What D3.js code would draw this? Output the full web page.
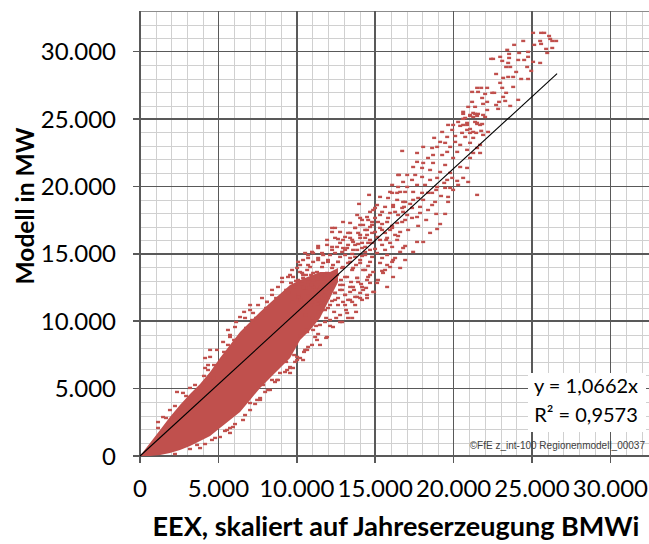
<!DOCTYPE html>
<html>
<head>
<meta charset="utf-8">
<script src="https://cdn.jsdelivr.net/npm/d3@7"></script>
<style>
body { margin: 0; background: #fff; }
text { font-family: Lato, "Open Sans", sans-serif; fill: #000; }
</style>
</head>
<body>
<div class="scatter"></div>
<script>
// axis ticks (MW)
const xTicks = [0, 5000, 10000, 15000, 20000, 25000, 30000]
const yTicks = [0, 5000, 10000, 15000, 20000, 25000, 30000]
const gridStep = 1000
const axisMax = 33000

// trend line y = 1,0662x, drawn up to the largest EEX value
const slope = 1.0662
const trendMaxX = 26600
const eqLines = ['y = 1,0662x', 'R² = 0,9573']
const xTitle = 'EEX, skaliert auf Jahreserzeugung BMWi'
const yTitle = 'Modell in MW'
const credit = '©FfE z_int-100 Regionenmodell_00037'

// dense core of the cloud: EEX value, lowest and highest Modell value that is fully covered
const coreX = [0, 640, 1280, 1910, 2550, 3190, 3830, 4470, 5100, 5740, 6380, 7020, 7660, 8290, 8930, 9570, 10210, 10850, 11480, 12120, 12630]
const coreHigh = [0, 970, 1930, 2890, 3780, 4600, 5340, 6230, 7270, 8240, 9200, 9940, 10680, 11350, 12020, 12690, 13060, 13360, 13650, 13650, 13950]
const coreLow = [0, 0, 70, 220, 450, 740, 1110, 1480, 2080, 2670, 3260, 4160, 5050, 5790, 6530, 7270, 8610, 9350, 10240, 11720, 12910]

// ragged rim of the core
const coreRim = [
  [1150,2080],[1660,2820],[2230,3710],[2940,4450],[3510,5270],[4080,5940],[4720,6750],[5360,7720],[6000,8610],[6760,9500],
  [7400,10240],[8040,10980],[8680,11720],[9320,12320],[9950,12990],[10590,13430],[1910,3410],[3190,5050],[4340,6380],[5610,8240],
  [7150,10090],[2230,150],[3190,520],[4150,890],[4790,1340],[5420,1860],[6060,2370],[6700,3040],[7340,3860],[7980,4750],
  [8610,5490],[9250,6230],[9890,6980],[10530,7870],[11170,8830],[11800,9940],[3830,590],[5740,2080],[7660,4300],[9570,6530]
]

// single hours around the core
const coreFringe = [
  [9570,13430],[9060,13210],[8800,12540],[8420,11950],[8100,11430],[7530,11200],[7210,10610],[6700,10240],[6060,9570],[5740,8980],
  [5300,8460],[4910,7870],[4470,7350],[4150,6530],[10400,13430],[11040,12540],[11170,11430],[10660,9200],[10720,8090],[10210,7270],
  [9570,6600],[8930,6160],[8420,5640],[7850,5270],[9760,6530],[2360,4750],[1470,2890],[1150,2520],[2740,4680],[4020,5270],
  [4340,6750],[4660,5790],[5100,1410],[5550,1930],[5930,2150],[4590,1190],[3640,820],[5740,1710],[6570,2670],[7020,3410],
  [7470,4160],[8170,4900],[8800,5640],[7020,3930],[7660,4160],[8290,4900],[8740,5640],[9570,6160],[10020,7120],[4470,7870],
  [4150,7270],[5740,8830],[6380,10310],[7020,10830],[8100,11430],[7020,11200],[7780,11720],[8420,12320],[9060,12910],[6640,10690],
  [6130,9940],[5610,9350]
]

// where the core thins out, 10.000 - 15.000 MW
const coreEdge = [
  [11360,11580],[11610,10830],[11870,10240],[12120,9650],[12380,10690],[12630,11720],[12890,12320],[13140,10830],[13400,11580],[13650,12320],
  [13910,12910],[14160,11580],[14420,12470],[14670,13430],[14930,12170],[15180,13060],[11740,11870],[12120,11200],[12510,10240],[12890,9940],
  [13270,10240],[13780,10690],[10970,10240],[11230,9650],[10590,9350],[10210,8900],[9950,8310],[11360,9050],[11870,8760],[10970,8240],
  [10460,7720],[9830,7490],[9320,6980]
]

// 10.000 - 17.000 MW
const bandMid = [
  [14610,19370],[16080,19520],[16590,19590],[16910,18850],[16140,18620],[13970,18700],[14990,18400],[16780,18110],[13850,17880],[14480,17730],
  [14990,17660],[15760,17360],[16400,17290],[16910,17510],[13400,17290],[14040,17140],[14670,16990],[15310,16920],[15950,16770],[16590,16620],
  [12760,16620],[13270,16550],[13910,16550],[14480,16400],[15120,16250],[15760,16180],[16400,16030],[12440,16180],[12950,16030],[13590,15880],
  [14160,15810],[14800,15810],[15440,15660],[16080,15510],[16780,15430],[11930,15660],[12570,15510],[13210,15430],[13850,15290],[14360,15140],
  [15120,15060],[15760,14910],[16270,14690],[16910,14540],[10970,15140],[11610,15060],[12120,14910],[12760,14770],[13400,14690],[14040,14540],
  [14670,14400],[15310,14320],[15950,14020],[16590,13950],[10400,14540],[11040,14400],[11680,14320],[12310,14170],[12950,14020],[13590,13950],
  [14230,13800],[14870,13650],[15500,13580],[16140,13280],[10020,13950],[10660,13800],[11290,13650],[11930,13580],[12570,13430],[13210,13280],
  [13850,13210],[14480,13060],[15120,12840],[15760,12540],[9760,13280],[10400,13210],[11040,13060],[11680,12910],[12310,12840],[12950,12690],
  [13590,12540],[14230,12320],[14870,12170],[9890,12540],[10530,12470],[11170,12320],[11800,12170],[12440,12100],[13080,11950],[13720,11800],
  [14480,11720],[10210,11580],[10850,11200],[11480,11350],[11990,10980],[11360,10690],[10530,10460],[12440,11580],[13080,11200],[12760,10460],
  [12120,10090],[11480,9720],[13210,10610],[12310,9570],[11930,8830],[11480,8240],[11290,8610],[10660,7870],[10020,7350],[9380,6380],
  [10400,7120],[13720,11200],[14040,11720],[13530,10240],[12760,9940],[11040,9350],[12250,16920],[12950,17360],[11360,15580],[10720,14910],
  [10080,14400],[10720,14170],[11360,14690],[11990,14400],[12630,14400],[13270,14320],[13780,14170],[14550,14100],[10210,13650],[10910,13430],
  [11550,13280],[12190,13130],[12820,13060],[13460,12910],[14100,12760],[9630,12840],[10270,12760],[10910,12690],[11480,12540],[12120,12390],
  [12760,12320],[13400,12170],[14040,12100],[10080,11950],[10720,11870],[11360,11800],[11990,11720],[13270,11580],[12630,11200],[11800,10830],
  [13080,15290],[13720,15660],[14360,15510],[14990,15360],[15630,15290],[12250,15290],[12890,15140],[13530,14990],[14160,14840],[14800,14770],
  [15440,14690],[16080,14400],[13400,16180],[14040,16180],[14670,16030],[15310,16030],[15950,15810],[13720,16920],[14360,16770],[14990,16620],
  [15630,16550],[16270,16400],[14160,17510],[14800,17360],[15440,17210],[16080,17070],[14670,18110],[15310,17880],[16460,17880]
]

// second reading of the busiest part, 9.000 - 15.000 MW
const bandDense = [
  [14040,17660],[14550,17510],[14800,17140],[14230,17140],[13720,16920],[14480,16770],[14800,16550],[13400,16550],[14040,16400],[13080,16250],
  [12440,16920],[12250,16620],[12630,16100],[13530,16030],[14360,16180],[11930,16030],[12760,15810],[13270,15660],[13910,15730],[14550,15810],
  [11360,15430],[12250,15510],[12950,15430],[13590,15290],[14160,15430],[14670,15290],[10530,15060],[11040,15060],[11680,14910],[12440,15060],
  [13080,14910],[13720,14770],[14360,14910],[10720,14690],[11360,14540],[11990,14540],[12630,14400],[13400,14400],[14040,14320],[10210,14170],
  [10850,14020],[11610,14020],[12250,13950],[12890,13950],[13530,13800],[14360,13800],[9700,13800],[10340,13580],[11040,13580],[11800,13430],
  [12440,13280],[13080,13280],[13850,13210],[14550,13280],[9440,13280],[10080,13060],[10720,12910],[11360,12910],[12120,12840],[12760,12690],
  [13400,12540],[14160,12540],[14670,12840],[9760,12540],[10400,12470],[11170,12320],[11800,12170],[12440,12100],[13080,11950],[13850,11800],
  [14480,11950],[9440,12100],[10080,11800],[10850,11720],[11610,11580],[12250,11500],[12950,11430],[13530,11430],[9700,11430],[10530,11350],
  [11290,11280]
]

// 15.000 - 22.000 MW
const sparseMid = [
  [20610,25380],[21050,25300],[21250,25450],[21560,25380],[22010,25150],[21250,25150],[20610,25010],[20290,24780],[20860,24710],[21500,24710],
  [21690,24560],[20420,24490],[19970,24560],[19650,24560],[19910,24190],[20540,23970],[21050,24260],[21440,23970],[21880,23820],[22200,24040],
  [19270,24040],[19590,23670],[20100,23740],[20740,23670],[21250,23600],[18760,23600],[19140,23300],[19460,23230],[20100,23300],[19780,22930],
  [20420,23080],[21050,23230],[21690,23080],[21500,22850],[20860,22710],[20230,22560],[19590,22560],[18950,22930],[18630,22850],[18060,22930],
  [16720,22630],[17670,22480],[18690,22330],[19270,22330],[19970,22110],[21250,22480],[21690,22480],[21050,22110],[18370,22110],[17670,21820],
  [18060,21740],[18690,21740],[19460,21590],[20420,21440],[20860,21370],[17420,21440],[17990,21370],[18500,21220],[19140,21070],[19780,21000],
  [20610,20630],[20930,20330],[20230,20410],[16520,20850],[17040,20850],[17550,20850],[17990,20700],[18500,20480],[18950,20630],[19590,20480],
  [17350,20480],[16780,20330],[16080,20110],[16460,19960],[17040,19960],[17670,20110],[18180,20110],[18950,19960],[19460,19890],[19970,19740],
  [15950,19590],[16400,19520],[16910,19590],[17420,19590],[17990,19520],[18630,19520],[19650,19220],[21500,19370],[15310,19220],[15820,19140],
  [16400,19000],[16780,18850],[17420,19000],[18060,19000],[18820,18850],[15120,18620],[15630,18480],[16140,18480],[16720,18400],[17350,18400],
  [17860,18480],[18370,18250],[14870,18250],[15440,18110],[15950,18030],[17040,17880],[17670,17730],[19460,17960],[19650,18850],[19140,17210],
  [18950,16840],[18500,16550],[18060,15880],[17670,15880],[17420,15140],[16910,15580],[16590,15140],[16140,14540],[15760,14170],[15630,13800],
  [15440,13730],[16460,20850],
  [15180,17360],[15820,17660],[16270,18110],[16840,18480],[17230,18700],[17740,19140],[18370,19520],[18890,19740],[19400,20260],[19910,20630],
  [15440,16770],[16080,16920],[16720,17360],[17350,17660],[17860,18030],[18630,18620],[19200,19290],[19780,19890],[20290,20110],[15700,16030],
  [16460,16320],[17100,16770],[17740,17070],[18250,17510],[18890,17960]
]

// 20.000 - 27.000 MW
const sparseTop = [
  [24440,30790],[25070,31390],[25580,31390],[25780,31390],[26090,31160],[26160,30940],[26540,30790],[26290,30790],[25520,30790],[25900,30200],
  [26290,30270],[25580,30570],[25140,30500],[23860,30500],[23420,30130],[25970,29900],[24750,29980],[24180,29900],[23540,29830],[22970,29610],
  [22390,29460],[22520,29460],[23540,29530],[24120,29380],[24500,29380],[24750,29610],[25070,29240],[25520,29160],[24690,28860],[23480,29160],
  [23100,29310],[23610,28860],[23350,28860],[23990,28490],[24950,28570],[22710,28340],[23480,28120],[23800,28120],[23160,28050],[24750,27970],
  [24310,27970],[22970,27680],[23800,27380],[23100,27310],[22590,26940],[22140,27310],[21760,27310],[21500,27310],[22010,26860],[21560,27010],
  [21180,27010],[21820,26560],[22460,26940],[23350,26940],[23160,26640],[22900,26270],[23290,26340],[22710,26040],[22140,26270],[21880,26120],
  [21180,26270],[21370,25900],[23610,25970],[24120,26420],[22840,25750],[22140,25670],[21880,25300],[21370,25380],[21050,25230],[20930,25900],
  [20610,25530],[20740,25080],[21500,25230],[21370,24780],[21500,24630],[21820,24630],[20860,24560],[20610,24560],[20860,24190],[21250,24040],
  [21050,23970],[21760,24120]
]

const width = 649, height = 544
const red = '#c0504d'

const svg = d3.select('.scatter')
  .append('svg')
  .attr('width', width)
  .attr('height', height)

const x = d3.scaleLinear().domain([0, axisMax]).range([140, 140 + 33 * 15.68])
const y = d3.scaleLinear().domain([0, axisMax]).range([456, 456 - 33 * 13.48])

const de = d3.formatLocale({ decimal: ',', thousands: '.', grouping: [3], currency: ['', ' €'] })
const fmt = de.format(',d')

const minor = d3.range(0, axisMax + 1, gridStep)
const grid = svg.append('g').attr('shape-rendering', 'crispEdges')

grid.selectAll('.vmin').data(minor.filter(d => d % 5000 !== 0))
  .enter().append('line')
  .attr('x1', d => Math.round(x(d)) + 0.5).attr('x2', d => Math.round(x(d)) + 0.5)
  .attr('y1', y(axisMax)).attr('y2', y(0))
  .attr('stroke', '#d0d0d0')
grid.selectAll('.hmin').data(minor.filter(d => d % 5000 !== 0 && d !== axisMax))
  .enter().append('line')
  .attr('y1', d => Math.round(y(d)) + 0.5).attr('y2', d => Math.round(y(d)) + 0.5)
  .attr('x1', x(0)).attr('x2', width)
  .attr('stroke', '#d0d0d0')
// top border
grid.append('line')
  .attr('x1', x(0)).attr('x2', width)
  .attr('y1', Math.round(y(axisMax)) + 0.5).attr('y2', Math.round(y(axisMax)) + 0.5)
  .attr('stroke', '#8c8c8c')

grid.selectAll('.vmaj').data(xTicks.filter(d => d > 0))
  .enter().append('line')
  .attr('x1', d => x(d)).attr('x2', d => x(d))
  .attr('y1', y(axisMax)).attr('y2', y(0) + 7)
  .attr('stroke', '#595959').attr('stroke-width', 1.5)
grid.selectAll('.hmaj').data(yTicks.filter(d => d > 0))
  .enter().append('line')
  .attr('y1', d => y(d)).attr('y2', d => y(d))
  .attr('x1', x(0) - 7).attr('x2', width)
  .attr('stroke', '#595959').attr('stroke-width', 1.5)

// axes lines
grid.append('line')
  .attr('x1', x(0)).attr('x2', x(0))
  .attr('y1', y(axisMax)).attr('y2', y(0) + 7)
  .attr('stroke', '#595959').attr('stroke-width', 2)
grid.append('line')
  .attr('x1', x(0) - 7).attr('x2', width)
  .attr('y1', y(0)).attr('y2', y(0))
  .attr('stroke', '#595959').attr('stroke-width', 2)

// cloud
const core = coreX.map((v, i) => ({ x: v, lo: coreLow[i], hi: coreHigh[i] }))
svg.append('path')
  .datum(core)
  .attr('d', d3.area().x(d => x(d.x)).y0(d => y(d.lo)).y1(d => y(d.hi)))
  .attr('fill', red)

const points = [].concat(coreRim, coreFringe, coreEdge, bandMid, bandDense, sparseMid, sparseTop)
svg.append('g').selectAll('rect')
  .data(points)
  .enter().append('rect')
  .attr('x', d => x(d[0]) - 2)
  .attr('y', d => y(d[1]) - 1.2)
  .attr('width', 4)
  .attr('height', 2.4)
  .attr('fill', red)

// trend line
svg.append('line')
  .attr('x1', x(0)).attr('y1', y(0))
  .attr('x2', x(trendMaxX)).attr('y2', y(trendMaxX * slope))
  .attr('stroke', '#000').attr('stroke-width', 1.1)

// tick labels
svg.append('g').selectAll('text')
  .data(yTicks)
  .enter().append('text')
  .attr('x', 116)
  .attr('y', d => y(d))
  .attr('dy', '0.36em')
  .attr('text-anchor', 'end')
  .style('font-size', '24px')
  .text(d => fmt(d))
svg.append('g').selectAll('text')
  .data(xTicks)
  .enter().append('text')
  .attr('x', d => x(d))
  .attr('y', 497)
  .attr('text-anchor', 'middle')
  .style('font-size', '24px')
  .text(d => fmt(d))

// titles
svg.append('text')
  .attr('transform', `translate(34, 206) rotate(-90)`)
  .attr('text-anchor', 'middle')
  .style('font-size', '24.5px')
  .style('font-weight', 'bold')
  .text(yTitle)
svg.append('text')
  .attr('x', 396)
  .attr('y', 536)
  .attr('text-anchor', 'middle')
  .style('font-size', '27px')
  .style('font-weight', 'bold')
  .text(xTitle)

// regression label
svg.append('rect')
  .attr('x', 528).attr('y', 373)
  .attr('width', 118).attr('height', 59)
  .attr('fill', '#fff')
svg.selectAll('.eq').data(eqLines)
  .enter().append('text')
  .attr('x', 586)
  .attr('y', (d, i) => 393 + i * 29)
  .attr('text-anchor', 'middle')
  .style('font-size', '20px')
  .text(d => d)

svg.append('text')
  .attr('x', 645)
  .attr('y', 449)
  .attr('text-anchor', 'end')
  .style('font-family', '"Liberation Sans", Arial, sans-serif')
  .style('font-size', '10px')
  .style('fill', '#404040')
  .text(credit)
</script>
</body>
</html>
